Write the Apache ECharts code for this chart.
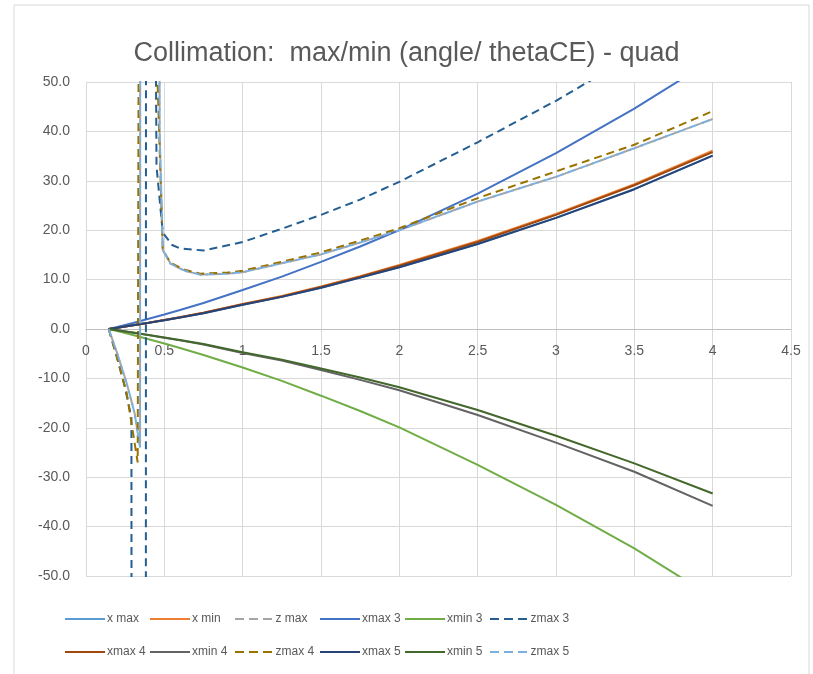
<!DOCTYPE html>
<html>
<head>
<meta charset="utf-8">
<title>Collimation</title>
<script src="https://cdn.jsdelivr.net/npm/echarts@6/dist/echarts.min.js"></script>
<style>
  html, body { margin: 0; padding: 0; background: #fff; }
  #main { width: 813px; height: 674px; }
</style>
</head>
<body>
<div id="main"></div>
<script>
// x positions shared by the smooth max/min curves
var xs = [0.145, 0.2, 0.3, 0.4, 0.5, 0.6, 0.75, 1, 1.25, 1.5, 1.75, 2, 2.5, 3, 3.5, 4];

var xmax3 = [0, 0.43, 1.23, 2.07, 2.93, 3.84, 5.25, 7.9, 10.6, 13.6, 16.7, 20.0, 27.4, 35.6, 44.6, 54.5];
var xmin3 = [0, -0.43, -1.23, -2.07, -2.93, -3.84, -5.25, -7.8, -10.5, -13.5, -16.6, -19.9, -27.5, -35.6, -44.4, -54.3];
var xmax4 = [0, 0.27, 0.76, 1.27, 1.81, 2.38, 3.27, 5.0, 6.6, 8.5, 10.6, 12.8, 17.6, 23.1, 29.1, 35.8];
var xmin4 = [0, -0.26, -0.74, -1.24, -1.76, -2.3, -3.15, -4.85, -6.4, -8.3, -10.3, -12.4, -17.4, -23.0, -28.9, -35.8];
var xmax5 = [0, 0.26, 0.75, 1.25, 1.78, 2.34, 3.2, 4.9, 6.5, 8.35, 10.4, 12.5, 17.2, 22.5, 28.3, 35.1];
var xmin5 = [0, -0.25, -0.72, -1.2, -1.7, -2.22, -3.05, -4.7, -6.2, -8.0, -9.8, -11.8, -16.4, -21.6, -27.2, -33.3];
// first three series sit underneath the others
var xmaxA = [0, 0.26, 0.75, 1.25, 1.78, 2.34, 3.2, 4.9, 6.5, 8.35, 10.4, 12.5, 17.2, 22.5, 28.3, 35.1];
var xminA = [0, 0.27, 0.77, 1.28, 1.83, 2.4, 3.3, 5.05, 6.7, 8.6, 10.7, 12.95, 17.8, 23.3, 29.3, 36.1];

// zmax curves blow up near x ~ 0.3-0.5, so they carry their own x
var zmax3X = [0.145, 0.2, 0.25, 0.29, 0.295, 0.38, 0.385, 0.45, 0.49, 0.55, 0.6, 0.75, 1, 1.25, 1.5, 1.75, 2, 2.5, 3, 3.5, 4];
var zmax3Y = [0, -6, -12, -18, -400, -400, 400, 33, 19.5, 17, 16.3, 15.9, 17.6, 20.3, 23.1, 26.2, 29.8, 37.8, 46.2, 55.5, 65];
var zmax4X = [0.145, 0.2, 0.26, 0.33, 0.36, 0.455, 0.49, 0.54, 0.63, 0.73, 0.9, 1, 1.25, 1.5, 1.75, 2, 2.5, 3, 3.5, 4];
var zmax4Y = [0, -6, -13, -27, 400, 52, 16, 13.4, 12, 11.2, 11.4, 11.8, 13.6, 15.5, 17.9, 20.4, 26.5, 31.9, 37.3, 44.1];
var zmax5X = [0.145, 0.2, 0.26, 0.31, 0.345, 0.35, 0.465, 0.47, 0.49, 0.54, 0.63, 0.73, 0.9, 1, 1.25, 1.5, 1.75, 2, 2.5, 3, 3.5, 4];
var zmax5Y = [0, -5, -11, -17, -24, 400, 400, 40, 16, 13.2, 11.8, 11, 11.2, 11.5, 13.3, 15.1, 17.5, 20, 25.8, 30.8, 36.6, 42.5];

var names = ['x max', 'x min', 'z max', 'xmax 3', 'xmin 3', 'zmax 3',
             'xmax 4', 'xmin 4', 'zmax 4', 'xmax 5', 'xmin 5', 'zmax 5'];
var colors = ['#5B9BD5', '#ED7D31', '#A5A5A5', '#4472C4', '#70AD47', '#255E91',
              '#9E480E', '#636363', '#997300', '#264478', '#43682B', '#7CAFDD'];
var dashed = [false, false, true, false, false, true, false, false, true, false, false, true];

// legend icons: plain bar for solid, three dashes for dashed
var solidIcon = 'path://M0,0h40v2.2h-40z';
var dashIcon = 'path://M0,0h9v2.2h-9zM14,0h9v2.2h-9zM28,0h9v2.2h-9z';

function pairs(xa, ya) {
  return xa.map(function (x, i) { return [x, ya[i]]; });
}

function line(i, data, offset) {
  return {
    name: names[i],
    type: 'line',
    symbol: 'none',
    data: data,
    lineStyle: {
      color: colors[i],
      width: 2,
      type: dashed[i] ? [8, 5] : 'solid',
      dashOffset: offset || 0
    },
    itemStyle: { color: colors[i] }
  };
}

var myChart = echarts.init(document.getElementById('main'));

// one legend per entry so the columns line up like the original
var legends = names.map(function (n, i) {
  return {
    data: [{ name: n, icon: dashed[i] ? dashIcon : solidIcon }],
    left: 65 + (i % 6) * 85,
    top: i < 6 ? 613 : 646,
    itemWidth: 40,
    itemHeight: 2.2,
    padding: 0,
    selectedMode: false,
    textStyle: { color: '#595959', fontSize: 12, fontFamily: 'Liberation Sans', padding: [0, 0, 0, -3] }
  };
});

var option = {
  animation: false,
  backgroundColor: '#fff',
  color: colors,
  graphic: [{
    type: 'rect',
    shape: { x: 14, y: 5, width: 795, height: 700 },
    style: { fill: 'none', stroke: '#D9D9D9', lineWidth: 1 },
    silent: true
  }],
  title: {
    text: 'Collimation:  max/min (angle/ thetaCE) - quad',
    left: 'center',
    top: 35,
    textStyle: { color: '#595959', fontSize: 27, fontWeight: 'normal', fontFamily: 'Liberation Sans' }
  },
  legend: legends,
  grid: { left: 86, right: 22, top: 82, bottom: 98 },
  xAxis: {
    type: 'value',
    min: 0,
    max: 4.5,
    interval: 0.5,
    // axis sits on y = 0, half way up the plot
    offset: -247,
    axisLine: { onZero: false, lineStyle: { color: '#BFBFBF', width: 1 } },
    axisTick: { show: false },
    axisLabel: { color: '#595959', fontSize: 14, fontFamily: 'Liberation Sans', margin: 15 },
    splitLine: { show: true, lineStyle: { color: '#D9D9D9', width: 1 } }
  },
  yAxis: {
    type: 'value',
    min: -50,
    max: 50,
    interval: 10,
    axisLine: { show: false },
    axisTick: { show: false },
    axisLabel: {
      color: '#595959', fontSize: 14, fontFamily: 'Liberation Sans', margin: 16,
      formatter: function (v) { return v.toFixed(1); }
    },
    splitLine: { show: true, lineStyle: { color: '#D9D9D9', width: 1 } }
  },
  series: [
    line(0, pairs(xs, xmaxA)),
    line(1, pairs(xs, xminA)),
    line(2, pairs(zmax5X, zmax5Y), 6),
    line(3, pairs(xs, xmax3)),
    line(4, pairs(xs, xmin3)),
    line(5, pairs(zmax3X, zmax3Y)),
    line(6, pairs(xs, xmax4)),
    line(7, pairs(xs, xmin4)),
    line(8, pairs(zmax4X, zmax4Y)),
    line(9, pairs(xs, xmax5)),
    line(10, pairs(xs, xmin5)),
    line(11, pairs(zmax5X, zmax5Y))
  ]
};

myChart.setOption(option);
</script>
</body>
</html>
